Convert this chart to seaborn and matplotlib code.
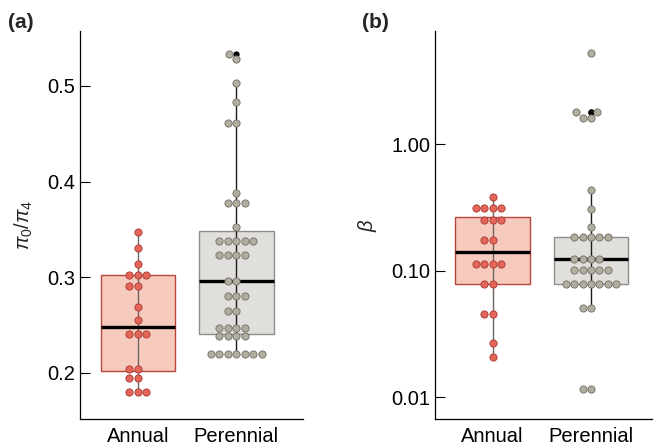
import numpy as np
import pandas as pd
import matplotlib
matplotlib.use('Agg')
import matplotlib.pyplot as plt
import seaborn as sns
from matplotlib import cbook

# ---------------- data ----------------
groups = ['Annual', 'Perennial']

pi_annual = [0.180, 0.180, 0.180, 0.195, 0.195, 0.2035, 0.2035, 0.241, 0.241, 0.241,
             0.255, 0.269, 0.291, 0.291, 0.302, 0.302, 0.302, 0.314, 0.331, 0.347]
pi_perennial = [0.220, 0.220, 0.220, 0.220, 0.220, 0.220, 0.220,
                0.238, 0.238, 0.238, 0.238,
                0.247, 0.247, 0.247, 0.247,
                0.265, 0.265,
                0.280, 0.280, 0.280,
                0.296, 0.296,
                0.323, 0.323, 0.323, 0.323,
                0.338, 0.338, 0.338, 0.338, 0.338,
                0.352, 0.378, 0.378, 0.378, 0.388,
                0.461, 0.461, 0.483, 0.503, 0.528, 0.533]

beta_annual = [0.0208, 0.0269, 0.045, 0.045, 0.078, 0.078,
               0.113, 0.113, 0.113, 0.113, 0.175, 0.175,
               0.252, 0.252, 0.252, 0.310, 0.310, 0.310, 0.310, 0.382]
beta_perennial = [0.0115, 0.0115, 0.051, 0.051,
                  0.078, 0.078, 0.078, 0.078, 0.078, 0.078, 0.078,
                  0.101, 0.101, 0.101, 0.101, 0.101,
                  0.124, 0.124, 0.124, 0.124,
                  0.184, 0.184, 0.184, 0.184, 0.184,
                  0.219, 0.309, 0.434, 1.62, 1.62, 1.79, 1.79, 5.23]

yticks_a = [0.2, 0.3, 0.4, 0.5]
yticklabels_a = ['0.2', '0.3', '0.4', '0.5']
yticks_b = [0.01, 0.1, 1.0]
yticklabels_b = ['0.01', '0.10', '1.00']

# ---------------- style ----------------
box_fill = {'Annual': '#F6CBBE', 'Perennial': '#E0DFDB'}
box_edge = {'Annual': '#B8453B', 'Perennial': '#8E8D89'}
pt_fill = {'Annual': '#E4665B', 'Perennial': '#B2AE9F'}
pt_edge = {'Annual': '#A8372E', 'Perennial': '#6F6D66'}
whisker_col = {'Annual': '#6E6560', 'Perennial': '#1A1A1A'}

sns.set_theme(style='white')
plt.rcParams['font.family'] = ['Liberation Sans', 'DejaVu Sans']
plt.rcParams['mathtext.fontset'] = 'custom'
plt.rcParams['mathtext.it'] = 'Liberation Sans:italic'
plt.rcParams['mathtext.rm'] = 'Liberation Sans'

FS = 14.5

fig = plt.figure(figsize=(6.54, 4.46), dpi=100)
ax_a = fig.add_axes([0.1223, 0.0605, 0.341, 0.871])
ax_b = fig.add_axes([0.665, 0.0605, 0.332, 0.871])


def draw_panel(ax, annual, perennial, log):
    df = pd.DataFrame({
        'group': ['Annual'] * len(annual) + ['Perennial'] * len(perennial),
        'value': list(annual) + list(perennial),
    })
    if log:
        ax.set_yscale('log')
    sns.boxplot(data=df, x='group', y='value', hue='group', order=groups,
                hue_order=groups, palette=box_fill, saturation=1, width=0.76,
                showcaps=False, linewidth=1.0, legend=False, dodge=False,
                whiskerprops=dict(visible=False),
                medianprops=dict(color='black', linewidth=2.4),
                flierprops=dict(marker='o', markerfacecolor='black',
                                markeredgecolor='black', markersize=3.5),
                ax=ax)
    for patch, g in zip(ax.patches, groups):
        patch.set_edgecolor(box_edge[g])
        patch.set_facecolor(box_fill[g])
        patch.set_linewidth(1.0)
    # whisker line running through the box
    for i, g in enumerate(groups):
        vals = np.asarray(df.loc[df.group == g, 'value'], dtype=float)
        if log:
            st = cbook.boxplot_stats(np.log10(vals), whis=1.5)[0]
            lo, hi = 10 ** st['whislo'], 10 ** st['whishi']
        else:
            st = cbook.boxplot_stats(vals, whis=1.5)[0]
            lo, hi = st['whislo'], st['whishi']
        ax.vlines(i, lo, hi, color=whisker_col[g], linewidth=1.0, zorder=2.05)
    for g in groups:
        sub = df[df.group == g]
        sns.swarmplot(data=sub, x='group', y='value', order=groups,
                      color=pt_fill[g], edgecolor=pt_edge[g], linewidth=0.6,
                      size=5.2, zorder=4, ax=ax)
    ax.set_xlabel('')
    for s in ['top', 'right']:
        ax.spines[s].set_visible(False)
    for s in ['left', 'bottom']:
        ax.spines[s].set_color('black')
        ax.spines[s].set_linewidth(0.9)
    ax.tick_params(axis='x', length=0, pad=6, labelsize=FS, colors='black')
    ax.tick_params(axis='y', direction='in', length=7, width=0.8, pad=3.4,
                   labelsize=FS, colors='black', left=True)
    ax.tick_params(axis='y', which='minor', left=False)
    ax.grid(False)


draw_panel(ax_a, pi_annual, pi_perennial, log=False)
ax_a.set_xlim(-0.59, 1.68)
ax_a.set_ylim(0.1516, 0.558)
ax_a.set_yticks(yticks_a)
ax_a.set_yticklabels(yticklabels_a)
ax_a.set_ylabel(r'$\pi_0/\pi_4$', fontsize=FS, labelpad=9)

draw_panel(ax_b, beta_annual, beta_perennial, log=True)
ax_b.set_xlim(-0.585, 1.62)
ax_b.set_ylim(0.0067, 7.9)
ax_b.set_yticks(yticks_b)
ax_b.set_yticklabels(yticklabels_b)
ax_b.yaxis.set_minor_locator(matplotlib.ticker.NullLocator())
ax_b.set_ylabel(r'$\beta$', fontsize=FS, labelpad=9)

fig.text(8 / 654, 1 - 28 / 446, '(a)', fontsize=15, fontweight='bold', va='baseline')
fig.text(362 / 654, 1 - 28 / 446, '(b)', fontsize=15, fontweight='bold', va='baseline')

fig.savefig('out.png', dpi=100, facecolor='white')
